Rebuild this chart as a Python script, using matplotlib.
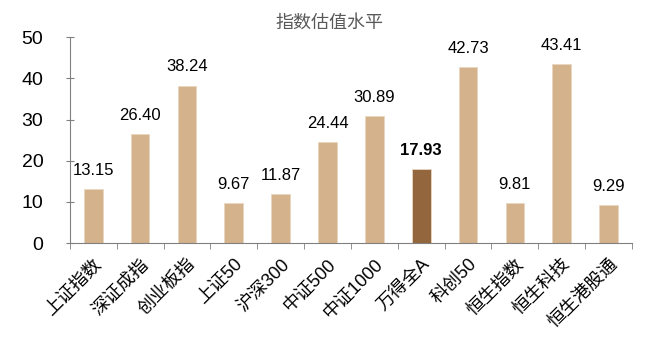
import matplotlib
matplotlib.use("Agg")
import matplotlib.pyplot as plt
import numpy as np

plt.rcParams["font.family"] = ["Liberation Sans", "Noto Sans CJK SC", "DejaVu Sans"]

names = ["上证指数", "深证成指", "创业板指", "上证50", "沪深300", "中证500", "中证1000",
         "万得全A", "科创50", "恒生指数", "恒生科技", "恒生港股通"]
values = [13.15, 26.40, 38.24, 9.67, 11.87, 24.44, 30.89, 17.93, 42.73, 9.81, 43.41, 9.29]
highlight = "万得全A"

TAN = "#D4B28C"; BROWN = "#93663D"; AXIS = "#808080"

fig = plt.figure(figsize=(6.59, 3.57), dpi=100)
ax = fig.add_axes([0.106, 0.319, 0.853, 0.577])
x = np.arange(len(names))
cols = [BROWN if n == highlight else TAN for n in names]
ax.bar(x, values, width=0.4, color=cols, edgecolor="#E8D6C0", linewidth=0.6)
for xi, v, n in zip(x, values, names):
    ax.annotate(f"{v:.2f}", (xi, v), xytext=(0, 8), textcoords="offset points",
                ha="center", va="bottom", fontsize=12, color="black",
                fontweight="bold" if n == highlight else "normal")

ax.set_xlim(-0.5, len(names) - 0.5)
ax.set_ylim(0, 50)
ax.set_yticks(range(0, 51, 10))
ax.tick_params(axis="y", labelsize=14, direction="inout", length=6, color=AXIS, pad=16)
ax.set_xticks(x)
ax.set_xticklabels(names, rotation=45, ha="right", rotation_mode="anchor", fontsize=13)
ax.tick_params(axis="x", which="major", length=0, pad=9)
ax.set_xticks(np.arange(-0.5, len(names), 1), minor=True)
ax.tick_params(axis="x", which="minor", length=4, color=AXIS, direction="out")
for s in ["top", "right"]:
    ax.spines[s].set_visible(False)
for s in ["left", "bottom"]:
    ax.spines[s].set_color(AXIS)

fig.text(0.5, 0.935, "指数估值水平", ha="center", va="center", fontsize=13, color="#595959")
fig.savefig("out.png", dpi=100, facecolor="white")
